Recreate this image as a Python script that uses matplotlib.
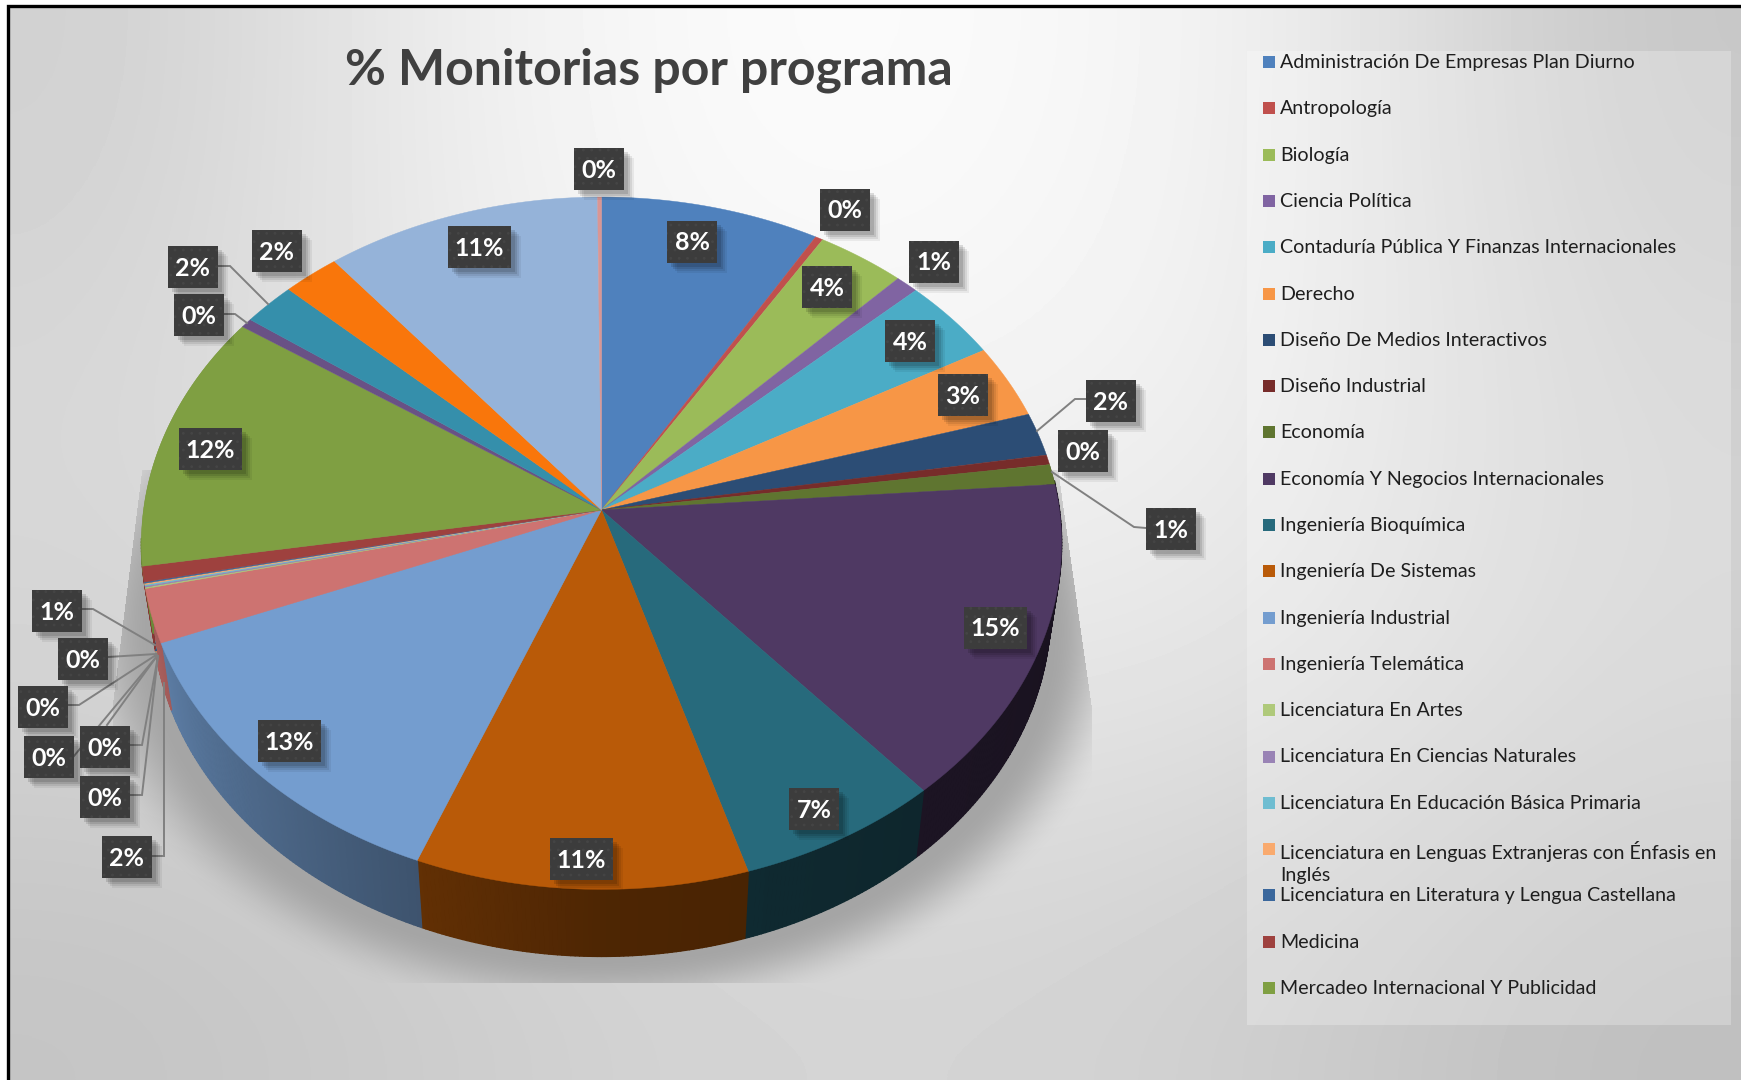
import numpy as np
import matplotlib
matplotlib.use('Agg')
import matplotlib.pyplot as plt
from matplotlib.patches import Rectangle
from matplotlib.collections import PolyCollection

##############################################################################
# data
programas = ['Administración De Empresas Plan Diurno', 'Antropología', 'Biología',
             'Ciencia Política', 'Contaduría Pública Y Finanzas Internacionales', 'Derecho',
             'Diseño De Medios Interactivos', 'Diseño Industrial', 'Economía',
             'Economía Y Negocios Internacionales', 'Ingeniería Bioquímica',
             'Ingeniería De Sistemas', 'Ingeniería Industrial', 'Ingeniería Telemática',
             'Licenciatura En Artes', 'Licenciatura En Ciencias Naturales',
             'Licenciatura En Educación Básica Primaria',
             'Licenciatura en Lenguas Extranjeras con Énfasis en\nInglés',
             'Licenciatura en Literatura y Lengua Castellana', 'Medicina',
             'Mercadeo Internacional Y Publicidad']
valores = [8.45, 0.30, 3.42, 0.88, 3.85, 3.47, 2.03, 0.46, 0.94, 14.90, 6.60, 10.67, 12.93,
           2.50, 0.06, 0.06, 0.06, 0.06, 0.06, 0.72, 12.10, 0.45, 2.05, 2.20, 10.63, 0.15]
etiquetas = ['8%', '0%', '4%', '1%', '4%', '3%', '2%', '0%', '1%', '15%', '7%', '11%', '13%',
             '2%', '0%', '0%', '0%', '0%', '0%', '1%', '12%', '0%', '2%', '2%', '11%', '0%']
colores = ['#4f81bd', '#c0504d', '#9bbb59', '#8064a2', '#4bacc6', '#f79646', '#2c4d75',
           '#772c2a', '#5f7530', '#4f3963', '#276a7c', '#b95a08', '#749dcf', '#cd7371',
           '#afc97a', '#9983b5', '#6fbdd1', '#f9aa6e', '#3a679c', '#9e413e', '#7f9f42',
           '#695185', '#358fab', '#f9760b', '#95b3d9', '#d99694']

# where the data labels were dragged to, same order as valores
pos_etiquetas = [(692, 242), (845, 210), (827, 287), (934, 262), (910, 341), (963, 395),
                 (1111, 401), (1083, 451), (1171, 529), (995, 628), (814, 809), (581, 859),
                 (289, 741), (127, 857), (105, 797), (105, 747), (49, 757), (43, 707),
                 (83, 659), (57, 611), (210, 449), (199, 315), (193, 267), (277, 251),
                 (479, 247), (599, 169)]
# leader lines
guias = [[(1086, 399), (1075, 399), (1037, 431)],
         [(1146, 528), (1134, 527), (1052, 472)],
         [(218, 266), (230, 266), (268, 304)],
         [(224, 314), (235, 314), (247, 323)],
         [(82, 609), (93, 609), (155, 645)],
         [(108, 657), (156, 654)],
         [(68, 705), (79, 705), (156, 655)],
         [(107, 725), (157, 656)],
         [(74, 756), (157, 656)],
         [(130, 745), (142, 745), (158, 656)],
         [(130, 795), (142, 795), (158, 656)],
         [(152, 856), (164, 856), (164, 683)]]

# background, grey levels on a coarse grid
fondo = [[208, 238, 252, 250, 238, 198],
         [216, 234, 245, 244, 236, 208],
         [212, 220, 228, 231, 227, 208],
         [196, 204, 212, 212, 204, 190]]

##############################################################################
# pie geometry, in pixels (perspective so the apex is not the ellipse center)
cx, cy, ra, rb, k = 601.5, 510., 458., 343., 0.096
prof, esc = 67., 0.976


def borde(t):
    d = 1 + k * np.cos(t)
    return cx + ra * np.sin(t) / d, cy - rb * np.cos(t) / d


def factor_lado(t):
    return np.interp(np.degrees(t), [90, 140, 180, 205, 250, 262], [.30, .36, .42, .55, .8, .85])


fig = plt.figure(figsize=(17.41, 10.8), dpi=100, facecolor='w')
ax = fig.add_axes([0, 0, 1, 1])
ax.axis('off')

# background
ax.imshow(np.array(fondo) / 255., cmap='gray', vmin=0, vmax=1, extent=(8, 1741, 1080, 6),
          interpolation='bicubic', aspect='auto', zorder=0)

# shadow under the pie, clipped to a trapezoid
yy, xx = np.mgrid[0:1080, 0:1741]
dd = np.sqrt(((xx - 601.) / 500.) ** 2 + ((yy - 630.) / 365.) ** 2)
alfa = 1 - np.clip((dd - .90) / .17, 0, 1)
alfa = alfa * alfa * (3 - 2 * alfa)
izq = np.where(yy < 700, 113 + (700 - yy) * 0.125, 113)
der = np.where(yy < 705, 1091 - (705 - yy) * 0.1415, 1091)
alfa[(xx < izq) | (xx > der) | (yy > 982) | (yy < 470)] = 0
sombra = np.zeros((1080, 1741, 4))
sombra[..., :3] = 165 / 255.
sombra[..., 3] = alfa
ax.imshow(sombra, extent=(0, 1741, 1080, 0), aspect='auto', zorder=1)

# slices
fracs = np.array(valores) / np.sum(valores)
limites = np.concatenate([[0], np.cumsum(fracs)]) * 2 * np.pi
for i in range(len(valores)):
    n = max(int((limites[i + 1] - limites[i]) / np.radians(0.5)), 2)
    ts = np.linspace(limites[i], limites[i + 1], n)
    xs, ys = borde(ts)
    # side wall first
    xb = cx + (xs - cx) * esc
    yb = ys + prof
    quads, cols = [], []
    base = np.array(matplotlib.colors.to_rgb(colores[i]))
    for j in range(n - 1):
        if ts[j] < np.radians(85) or ts[j] > np.radians(265):
            continue
        quads.append([(xs[j], ys[j]), (xs[j + 1], ys[j + 1]), (xb[j + 1], yb[j + 1]), (xb[j], yb[j])])
        cols.append(base * factor_lado(ts[j]))
    if quads:
        # plain wall underneath so the seams between the quads do not show
        ax.fill(np.r_[xs[:-1], xb[:-1][::-1]], np.r_[ys[:-1], yb[:-1][::-1]], facecolor=cols[len(cols) // 2],
                edgecolor='none', zorder=2)
        ax.add_collection(PolyCollection(quads, facecolors=cols, edgecolors=cols, linewidths=1.0, zorder=2))
for i in range(len(valores)):
    n = max(int((limites[i + 1] - limites[i]) / np.radians(0.5)), 2)
    ts = np.linspace(limites[i], limites[i + 1], n)
    xs, ys = borde(ts)
    ax.fill(np.r_[cx, xs], np.r_[cy, ys], facecolor=colores[i], edgecolor=colores[i], lw=0.3, zorder=3)

# leader lines
for g in guias:
    ax.plot([p[0] for p in g], [p[1] for p in g], color='#808080', lw=1.4, zorder=4,
            solid_joinstyle='miter')

# data labels
plt.rcParams['hatch.linewidth'] = 0.8
plt.rcParams['hatch.color'] = '#454545'
for lab, (px, py) in zip(etiquetas, pos_etiquetas):
    w = 63 if len(lab) == 3 else 50
    h = 42
    for s, a in zip([10, 8, 6, 4], [.06, .08, .10, .12]):
        ax.add_patch(Rectangle((px - w / 2 + s, py - h / 2 + s), w, h, fc='k', ec='none', alpha=a, zorder=5))
    ax.add_patch(Rectangle((px - w / 2, py - h / 2), w, h, fc='#3c3c3c', ec='none', zorder=6))
    ax.add_patch(Rectangle((px - w / 2, py - h / 2), w, h, fc='none', lw=0, hatch='..', zorder=6))
    ax.text(px, py + 1, lab, color='w', fontsize=18, fontweight='bold', family='Lato',
            ha='center', va='center', zorder=7)

# title
ax.text(649, 70, '% Monitorias por programa', color='#404040', fontsize=36, fontweight='bold',
        family='Lato', ha='center', va='center', zorder=7)

# legend box, drawn by hand because the long entry overflows on the next row
ax.add_patch(Rectangle((1247, 51), 484, 974, fc='w', ec='none', alpha=.25, zorder=2))
for i, nombre in enumerate(programas):
    yl = 62 + i * 46.3
    ax.add_patch(Rectangle((1263, yl - 6), 12, 12, fc=colores[i], ec='none', zorder=4))
    ax.text(1280, yl - 8, nombre, color='#1e1e1e', fontsize=14.1, family='Lato', ha='left', va='top',
            linespacing=1.35, zorder=4)

# frame
ax.plot([8, 8, 1741], [1080, 6, 6], color='k', lw=2.4, zorder=8, solid_joinstyle='miter')

ax.set_xlim(0, 1741)
ax.set_ylim(1080, 0)
fig.savefig('out.png', dpi=100, facecolor='w')
